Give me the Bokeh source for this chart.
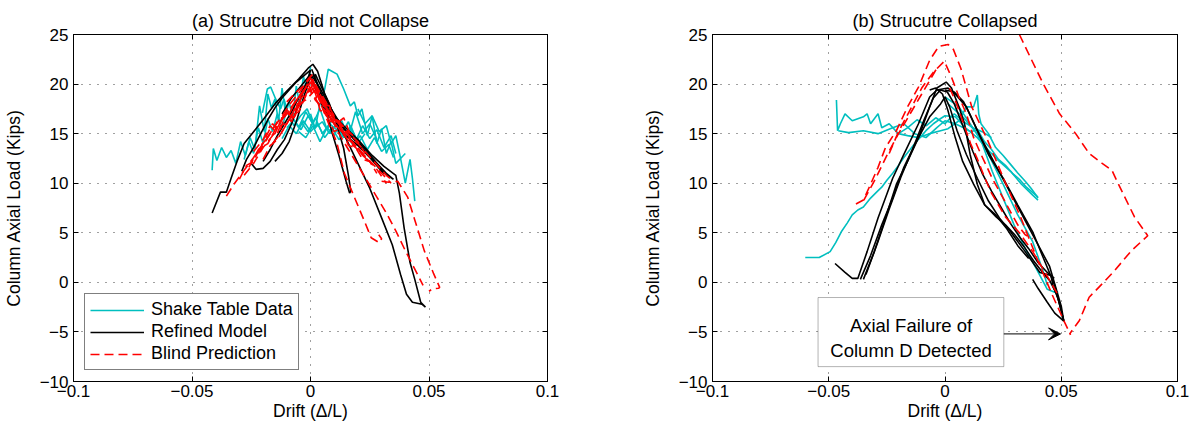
from bokeh.plotting import figure
from bokeh.layouts import row
from bokeh.models import (Range1d, FixedTicker, Legend, LegendItem, BoxAnnotation,
                          Label, Arrow, VeeHead, LinearAxis)
from bokeh.embed import file_html
from bokeh.resources import INLINE

# ---------------- data : panel (a) ----------------
X_TICKS = [-0.1, -0.05, 0, 0.05, 0.1]
X_LABELS = ["\u22120.1", "\u22120.05", "0", "0.05", "0.1"]
Y_TICKS = [-10, -5, 0, 5, 10, 15, 20, 25]
Y_LABELS = ["\u221210", "\u22125", "0", "5", "10", "15", "20", "25"]

A_SHAKE_X = [
    [-0.0415, -0.0410, -0.0395, -0.0375, -0.0355, -0.0335, -0.0315, -0.0295, -0.0275, -0.0255, -0.0235,
     -0.0215, -0.0195, -0.0180, -0.0165, -0.0150, -0.0135, -0.0120, -0.0105, -0.0090, -0.0075, -0.0060,
     -0.0045, -0.0030, -0.0015, 0.0000],
    [0.0000, 0.0020, 0.0040, 0.0060, 0.0075, 0.0090, 0.0112, 0.0140, 0.0168, 0.0185, 0.0200, 0.0217,
     0.0240, 0.0260, 0.0280, 0.0300, 0.0320, 0.0340, 0.0360, 0.0380, 0.0400, 0.0420, 0.0430, 0.0440],
    [-0.0203, -0.0182, -0.0168, -0.0147, -0.0126, -0.0112, -0.0091, -0.0070, -0.0042, -0.0014, 0.0010],
    [-0.012, -0.009, -0.006, -0.003, 0.000, 0.003, 0.006, 0.009, 0.012, 0.015, 0.018, 0.021, 0.024,
     0.027, 0.030, 0.033, 0.035],
    [-0.008, -0.005, -0.002, 0.001, 0.004, 0.007, 0.010, 0.013, 0.016, 0.019, 0.022, 0.025, 0.028,
     0.031, 0.034, 0.036],
    [-0.005, -0.002, 0.001, 0.004, 0.007, 0.010, 0.013, 0.016, 0.019, 0.022, 0.025, 0.028],
    [0.020, 0.023, 0.026, 0.029, 0.032, 0.034, 0.036, 0.038, 0.040],
    [-0.028, -0.026, -0.024, -0.022, -0.020, -0.018, -0.016, -0.014, -0.012, -0.010, -0.008],
    [-0.010, -0.007, -0.004, -0.001, 0.002, 0.005, 0.008, 0.011, 0.014, 0.017, 0.020],
    [-0.004, -0.001, 0.002, 0.005, 0.008, 0.011, 0.014, 0.017, 0.020, 0.023],
]
A_SHAKE_Y = [
    [11.3, 13.5, 12.3, 13.6, 12.6, 13.3, 12.0, 14.2, 12.8, 14.6, 13.4,
     17.8, 15.2, 19.0, 17.6, 18.5, 16.2, 19.6, 17.0, 18.2, 16.5, 19.8,
     17.8, 20.8, 19.4, 21.7],
    [17.0, 15.5, 18.0, 19.5, 21.5, 21.3, 21.0, 19.5, 17.8, 18.2, 16.8, 17.5,
     14.8, 16.8, 14.0, 15.5, 13.0, 14.2, 12.0, 12.5, 10.0, 12.4, 10.5, 8.2],
    [17.1, 19.5, 19.7, 18.5, 17.5, 18.5, 16.8, 15.8, 16.8, 17.5, 16.0],
    [14.5, 15.8, 15.0, 16.3, 15.2, 16.0, 14.6, 15.6, 14.4, 15.2, 13.8, 14.8, 13.4,
     14.6, 13.2, 13.9, 12.6],
    [16.8, 15.6, 17.2, 16.0, 17.5, 15.4, 16.8, 15.0, 16.2, 14.2, 15.8, 14.5, 15.4,
     13.6, 14.8, 13.0],
    [15.2, 14.6, 15.8, 14.2, 15.6, 14.8, 16.4, 14.6, 17.2, 15.0, 16.0, 14.4],
    [17.5, 16.0, 16.8, 15.2, 15.8, 14.0, 14.8, 12.5, 13.0],
    [12.4, 14.2, 13.0, 15.6, 14.0, 16.5, 15.2, 17.0, 15.6, 17.4, 16.2],
    [15.6, 16.4, 15.4, 16.8, 15.6, 16.2, 15.0, 16.0, 14.8, 15.6, 14.2],
    [16.2, 15.2, 16.6, 15.0, 16.0, 15.4, 14.6, 15.8, 14.0, 15.0],
]

A_MODEL_X = [
    [-0.0415, -0.0380, -0.0355, -0.0335, -0.0310, -0.0280, -0.0240, -0.0200, -0.0150, -0.0100, -0.0050,
     -0.0010, 0.0010, 0.0030, 0.0060, 0.0100, 0.0140, 0.0200, 0.0260, 0.0310, 0.0360, 0.0375, 0.0395,
     0.0420, 0.0440, 0.0465, 0.0485, 0.0470, 0.0430, 0.0405, 0.0380, 0.0345, 0.0300, 0.0250, 0.0200,
     0.0150, 0.0100, 0.0050, 0.0010],
    [0.0005, 0.0030, 0.0060, 0.0090, 0.0120, 0.0150, 0.0165, 0.0170, 0.0160, 0.0140, 0.0110, 0.0080,
     0.0050, 0.0020],
    [-0.0290, -0.0270, -0.0240, -0.0210, -0.0180, -0.0150, -0.0120, -0.0090, -0.0060, -0.0030, 0.0000,
     -0.0020, -0.0050, -0.0080, -0.0110, -0.0140, -0.0170, -0.0200, -0.0230, -0.0250],
    [-0.0200, -0.0170, -0.0140, -0.0110, -0.0080, -0.0050, -0.0020, 0.0000, -0.0030, -0.0060, -0.0090,
     -0.0120, -0.0150],
    [0.000, 0.004, 0.008, 0.012, 0.016, 0.020, 0.024, 0.028, 0.032, 0.035, 0.030, 0.025, 0.020, 0.015,
     0.010, 0.005, 0.001],
    [-0.012, -0.008, -0.004, 0.000, 0.004, 0.008, 0.012, 0.016, 0.020, 0.024, 0.028, 0.031],
]
A_MODEL_Y = [
    [7.0, 9.1, 9.1, 10.5, 12.2, 14.0, 15.2, 16.4, 18.0, 19.3, 20.5,
     21.6, 22.0, 21.3, 19.0, 16.8, 15.8, 14.4, 12.8, 11.7, 10.8, 9.0, 5.5,
     2.0, 0.3, -2.0, -2.5, -2.2, -2.0, -1.2, 0.8, 3.8, 6.5, 9.5, 12.0,
     14.5, 16.6, 18.8, 21.0],
    [21.5, 20.0, 17.8, 15.2, 12.8, 10.2, 9.0, 9.2, 10.8, 13.5, 16.0, 18.0, 19.5, 21.0],
    [11.2, 12.4, 13.6, 15.0, 16.4, 17.6, 18.6, 19.4, 20.2, 20.8, 21.4,
     19.8, 18.0, 16.0, 14.4, 13.4, 12.2, 11.5, 11.4, 12.0],
    [12.2, 13.4, 14.8, 16.0, 17.2, 18.6, 20.0, 20.8, 18.6, 16.2, 14.2, 13.0, 12.2],
    [20.8, 18.8, 17.2, 16.0, 15.0, 14.0, 13.0, 12.0, 11.0, 10.4, 11.2, 12.6, 13.8, 14.8,
     16.0, 17.8, 20.2],
    [17.0, 18.6, 19.8, 21.0, 19.6, 17.8, 16.2, 15.0, 14.2, 13.2, 12.0, 11.0],
]

A_BLIND_X = [
    [-0.0355, -0.0320, -0.0280, -0.0240, -0.0200, -0.0160, -0.0120, -0.0080, -0.0040, -0.0010, 0.0010],
    [0.0010, 0.0040, 0.0080, 0.0110, 0.0143, 0.0185, 0.0227, 0.0256, 0.0290, 0.0300, 0.0288],
    [0.0040, 0.0080, 0.0120, 0.0160, 0.0200, 0.0240, 0.0280, 0.0320, 0.0360, 0.0400, 0.0430,
     0.0460, 0.0475],
    [0.0300, 0.0330, 0.0368, 0.0410, 0.0440, 0.0480, 0.0520, 0.0545, 0.0540, 0.0515, 0.0500],
    [-0.028, -0.024, -0.020, -0.016, -0.012, -0.008, -0.004, 0.000, 0.004, 0.008, 0.012, 0.016,
     0.020, 0.024, 0.028, 0.032],
    [-0.022, -0.018, -0.014, -0.010, -0.006, -0.002, 0.001, 0.005, 0.009, 0.013, 0.017, 0.021, 0.025],
    [-0.016, -0.012, -0.008, -0.004, 0.000, 0.003, 0.006, 0.010, 0.014, 0.018],
    [-0.026, -0.022, -0.018, -0.014, -0.010, -0.006, -0.002, 0.002, 0.006, 0.010, 0.014, 0.018,
     0.022, 0.026, 0.030, 0.034],
    [-0.010, -0.006, -0.003, 0.000, 0.002, 0.005, 0.008, 0.012, 0.016, 0.018],
    [-0.024, -0.020, -0.017, -0.014, -0.011, -0.008, -0.005, -0.002, 0.001, 0.004, 0.007, 0.010,
     0.013, 0.016, 0.019, 0.022, 0.025],
    [-0.019, -0.016, -0.013, -0.010, -0.007, -0.004, -0.001, 0.002, 0.005, 0.008, 0.011, 0.014],
    [-0.013, -0.010, -0.007, -0.004, -0.001, 0.002, 0.005, 0.008, 0.011, 0.014, 0.017, 0.020, 0.023],
    [-0.020, -0.017, -0.014, -0.011, -0.008, -0.005, -0.002, 0.001, 0.004, 0.007, 0.010, 0.013,
     0.016, 0.019, 0.022, 0.025, 0.028],
    [-0.030, -0.027, -0.024, -0.021, -0.018, -0.015, -0.012, -0.009, -0.006, -0.003, 0.000, 0.003,
     0.006, 0.009, 0.012, 0.015],
    [0.002, 0.005, 0.008, 0.011, 0.014, 0.017, 0.020, 0.023, 0.026, 0.029, 0.032, 0.035],
]
A_BLIND_Y = [
    [8.7, 10.0, 11.3, 12.6, 14.0, 15.4, 16.8, 18.2, 19.4, 20.5, 21.0],
    [20.5, 18.2, 15.8, 14.2, 11.0, 8.6, 6.2, 4.5, 4.0, 4.4, 4.8],
    [19.0, 17.0, 15.0, 13.4, 11.8, 10.2, 8.6, 7.0, 5.2, 3.2, 1.8, 0.4, -0.3],
    [10.2, 10.1, 10.2, 8.6, 6.3, 3.2, 0.85, -0.5, -0.6, -0.65, -0.9],
    [10.8, 12.0, 13.6, 14.8, 16.4, 17.6, 19.0, 20.2, 18.6, 17.0, 15.8, 14.6,
     13.6, 12.4, 11.4, 10.0],
    [13.0, 14.6, 16.2, 17.0, 18.4, 19.6, 20.4, 18.2, 16.4, 15.2, 14.0, 13.2, 12.0],
    [14.0, 15.2, 16.8, 18.0, 19.8, 18.8, 17.6, 16.6, 15.4, 14.2],
    [11.6, 13.4, 14.0, 15.8, 16.0, 17.8, 18.4, 19.4, 17.2, 16.0, 15.0, 14.0,
     13.0, 12.0, 11.0, 10.0],
    [18.2, 19.2, 19.8, 20.6, 19.6, 18.6, 17.2, 16.2, 15.2, 14.8],
    [13.2, 14.4, 15.8, 15.0, 17.0, 16.2, 18.4, 19.8, 19.0, 17.8, 17.2, 16.0,
     15.4, 14.4, 13.8, 12.8, 12.2],
    [14.6, 16.0, 15.2, 17.4, 16.6, 18.8, 20.0, 18.4, 17.6, 16.2, 16.4, 15.0],
    [16.0, 17.2, 16.4, 18.6, 19.2, 19.6, 18.0, 17.8, 16.0, 16.6, 14.8, 14.2, 13.0],
    [12.4, 13.8, 14.4, 15.6, 16.8, 17.2, 18.8, 20.0, 17.4, 16.8, 15.2, 15.6,
     13.8, 13.6, 12.4, 12.2, 11.0],
    [10.4, 11.8, 12.2, 13.8, 14.6, 15.0, 16.6, 17.0, 18.4, 19.2, 20.6, 19.0,
     18.0, 16.2, 16.0, 14.6],
    [20.0, 18.8, 17.6, 16.4, 15.6, 14.6, 14.0, 13.2, 12.4, 11.6, 10.8, 10.2],
]

# ---------------- data : panel (b) ----------------
B_SHAKE_X = [
    [-0.0601, -0.0541, -0.0494, -0.0470, -0.0446, -0.0420, -0.0399, -0.0375, -0.0351, -0.0320, -0.0290,
     -0.0272, -0.0250, -0.0225, -0.0200, -0.0177, -0.0150, -0.0130, -0.0100, -0.0082, -0.0050, -0.0020,
     0.0000, 0.0044, 0.0092, 0.0139, 0.0187, 0.0234, 0.0282, 0.0329, 0.0377, 0.0400],
    [-0.0467, -0.0462, -0.0450, -0.0430, -0.0399, -0.0351, -0.0335, -0.0320, -0.0288, -0.0272, -0.0240,
     -0.0201, -0.0161, -0.0114, -0.0066, -0.0019, 0.0013, 0.0060, 0.0092, 0.0123, 0.0139, 0.0145,
     0.0155, 0.0187, 0.0218, 0.0250, 0.0282, 0.0314, 0.0345, 0.0370, 0.0392, 0.0400],
    [-0.0459, -0.0415, -0.0351, -0.0288, -0.0225, -0.0177, -0.0130, -0.0082, -0.0035, 0.0000, 0.0044,
     0.0080, 0.0110, 0.0140, 0.0170, 0.0200, 0.0230, 0.0260, 0.0290, 0.0320, 0.0350, 0.0380, 0.0400],
    [0.0000, 0.0060, 0.0108, 0.0155, 0.0203, 0.0250, 0.0297, 0.0345, 0.0392, 0.0440, 0.0472, 0.0487],
    [0.0013, 0.0076, 0.0139, 0.0187, 0.0250, 0.0313, 0.0377, 0.0424, 0.0440],
    [-0.020, -0.016, -0.012, -0.008, -0.004, 0.000, 0.004, 0.008, 0.012, 0.016, 0.020],
]
B_SHAKE_Y = [
    [2.5, 2.5, 3.1, 4.0, 5.1, 6.0, 6.8, 7.3, 7.6, 8.5, 9.2,
     9.6, 10.3, 11.0, 11.8, 12.6, 13.4, 14.0, 14.8, 15.3, 16.0, 16.5,
     16.8, 16.7, 15.5, 14.6, 13.3, 12.2, 11.2, 9.9, 8.8, 8.3],
    [18.4, 15.3, 16.0, 17.0, 16.3, 16.7, 17.0, 16.0, 17.0, 15.6, 16.0,
     15.0, 14.8, 14.6, 15.0, 15.3, 15.5, 16.3, 17.7, 17.7, 18.9, 17.0,
     16.0, 15.0, 13.6, 12.8, 11.9, 11.0, 10.2, 9.5, 8.8, 8.5],
    [15.3, 15.1, 15.3, 15.0, 15.6, 16.0, 15.0, 14.6, 15.6, 16.3, 16.0,
     15.6, 15.2, 15.4, 14.2, 13.4, 12.4, 11.8, 11.0, 10.4, 9.6, 9.0, 8.6],
    [18.7, 17.7, 16.0, 14.3, 11.2, 8.5, 5.8, 3.4, 1.4, -0.7, -1.0, -1.0],
    [18.0, 16.7, 15.0, 12.9, 9.9, 6.8, 4.1, 1.0, -0.3],
    [15.0, 15.6, 16.4, 15.8, 16.6, 16.0, 17.0, 16.2, 15.6, 15.2, 14.6],
]

B_MODEL_X = [
    [-0.0473, -0.0430, -0.0399, -0.0375, -0.0335, -0.0288, -0.0225, -0.0177, -0.0114, -0.0066, -0.0035,
     0.0013, 0.0044, 0.0092, 0.0139, 0.0187, 0.0250, 0.0313, 0.0377, 0.0424, 0.0472, 0.0511, 0.0472,
     0.0440, 0.0400, 0.0377],
    [-0.0364, -0.0320, -0.0272, -0.0225, -0.0177, -0.0130, -0.0066, -0.0019, 0.0000, 0.0020, 0.0052,
     0.0092, 0.0139, 0.0187, 0.0234, 0.0282, 0.0345, 0.0408, 0.0456, 0.0464, 0.0487, 0.0511],
    [-0.0351, -0.0304, -0.0256, -0.0209, -0.0161, -0.0114, -0.0066, -0.0035, 0.0005, 0.0028, 0.0060,
     0.0084, 0.0108, 0.0139, 0.0171, 0.0218, 0.0266, 0.0313, 0.0360],
    [-0.0340, -0.0290, -0.0240, -0.0190, -0.0140, -0.0090, -0.0050, -0.0020, 0.0010, 0.0040, 0.0080,
     0.0120, 0.0160, 0.0200, 0.0240, 0.0280, 0.0320, 0.0360, 0.0400, 0.0440, 0.0470],
    [-0.0066, -0.0040, -0.0011, 0.0013, 0.0044, 0.0076, 0.0123, 0.0171, 0.0220, 0.0260, 0.0300,
     0.0340, 0.0380, 0.0420, 0.0450, 0.0480, 0.0500],
    [0.0000, 0.0040, 0.0080, 0.0110, 0.0150, 0.0200, 0.0250, 0.0300, 0.0350, 0.0400, 0.0450,
     0.0500, 0.0511],
]
B_MODEL_Y = [
    [1.9, 1.0, 0.4, 0.4, 3.1, 6.5, 10.5, 12.9, 16.0, 18.7, 19.4,
     19.6, 19.0, 17.7, 15.3, 12.9, 10.5, 7.8, 5.1, 2.4, -0.3, -3.9, -3.1,
     -2.0, -0.6, 0.3],
    [0.3, 2.7, 5.8, 8.5, 11.6, 13.9, 16.7, 18.0, 18.7, 17.7, 15.3,
     12.9, 10.5, 8.2, 6.5, 5.1, 3.1, 1.0, 0.7, -0.3, -1.7, -3.9],
    [0.3, 3.1, 6.5, 9.9, 12.2, 14.6, 17.7, 19.6, 20.2, 19.6, 17.7,
     16.0, 12.9, 9.9, 7.8, 6.8, 5.4, 3.7, 2.4],
    [0.8, 4.0, 7.4, 10.6, 13.4, 16.4, 18.6, 19.4, 19.2, 18.0, 15.6,
     13.2, 11.0, 9.2, 7.6, 6.0, 4.6, 3.4, 2.0, 1.0, 0.4],
    [19.4, 19.6, 19.0, 17.3, 14.6, 12.2, 9.9, 7.8, 6.6, 5.8, 4.8,
     3.6, 2.2, 1.0, 0.2, -1.2, -2.6],
    [19.4, 19.2, 18.2, 16.8, 14.8, 12.6, 10.4, 8.2, 6.0, 3.8, 1.6,
     -2.4, -3.9],
]

B_BLIND_X = [
    [-0.0383, -0.0351, -0.0320, -0.0288, -0.0256, -0.0209, -0.0161, -0.0114, -0.0066, -0.0027, 0.0013,
     0.0036, 0.0068, 0.0115, 0.0184, 0.0255, 0.0325, 0.0394, 0.0460, 0.0510, 0.0540],
    [0.0320, 0.0367, 0.0423, 0.0493, 0.0562, 0.0620, 0.0676, 0.0718, 0.0746, 0.0815, 0.0872,
     0.0802, 0.0730, 0.0676, 0.0620, 0.0578, 0.0536],
    [-0.0240, -0.0200, -0.0150, -0.0100, -0.0050, -0.0003, 0.0028, 0.0060, 0.0092, 0.0123, 0.0155,
     0.0203, 0.0250, 0.0282, 0.0313, 0.0345, 0.0377],
    [0.0020, 0.0050, 0.0080, 0.0110, 0.0140, 0.0170, 0.0200, 0.0230, 0.0260, 0.0290, 0.0320,
     0.0350, 0.0380, 0.0410, 0.0440, 0.0470, 0.0490],
    [-0.0349, -0.0300, -0.0250, -0.0200, -0.0150, -0.0100, -0.0060, -0.0030],
]
B_BLIND_Y = [
    [7.9, 8.3, 9.9, 11.6, 13.6, 15.3, 17.7, 19.7, 22.4, 23.8, 24.0,
     23.5, 21.6, 17.7, 14.3, 10.3, 6.6, 2.5, -1.2, -3.8, -5.3],
    [25.0, 22.7, 20.0, 17.0, 15.0, 13.0, 12.0, 11.3, 9.9, 6.6, 4.7,
     3.2, 1.2, -0.15, -1.5, -3.85, -5.2],
    [13.0, 15.2, 17.4, 19.6, 21.2, 22.3, 20.7, 18.7, 17.0, 14.6, 12.9,
     10.5, 8.5, 7.1, 5.8, 4.8, 4.4],
    [19.6, 18.0, 16.0, 14.0, 12.4, 10.6, 9.0, 7.8, 6.6, 5.8, 5.0,
     4.0, 3.0, 1.8, 0.6, -0.6, -1.4],
    [8.3, 10.4, 12.8, 15.0, 17.0, 19.0, 20.6, 21.8],
]

TITLES = ["(a) Strucutre Did not Collapse", "(b) Strucutre Collapsed"]
SERIES_NAMES = ["Shake Table Data", "Refined Model", "Blind Prediction"]
NOTE_LINES = ["Axial Failure of", "Column D Detected"]

FONT = "Liberation Sans"
CYAN = "#00BFBF"
RED = "#FF0000"


def make_fig(title, width, bl, br):
    p = figure(width=width, height=429, x_range=Range1d(-0.1, 0.1), y_range=Range1d(-10, 25),
               output_backend="svg", toolbar_location=None,
               min_border_left=bl, min_border_right=br, min_border_top=34, min_border_bottom=48)
    p.title.text = title
    p.title.align = "center"
    p.title.text_font = FONT
    p.title.text_font_size = "18px"
    p.title.text_font_style = "normal"
    p.title.text_color = "black"
    p.title.standoff = 8
    p.background_fill_color = "white"
    p.border_fill_color = "white"
    p.outline_line_color = "black"
    p.outline_line_width = 1
    p.outline_line_alpha = 1

    p.xaxis.ticker = FixedTicker(ticks=X_TICKS)
    p.yaxis.ticker = FixedTicker(ticks=Y_TICKS)
    p.xaxis.major_label_overrides = {t: s for t, s in zip(X_TICKS, X_LABELS)}
    p.yaxis.major_label_overrides = {t: s for t, s in zip(Y_TICKS, Y_LABELS)}
    for ax in (p.xaxis, p.yaxis):
        ax.major_label_text_font = FONT
        ax.major_label_text_font_size = "17px"
        ax.major_label_text_color = "black"
        ax.axis_label_text_font = FONT
        ax.axis_label_text_font_size = "17.5px"
        ax.axis_label_text_font_style = "normal"
        ax.axis_label_text_color = "black"
        ax.major_tick_in = 5
        ax.major_tick_out = 0
        ax.minor_tick_in = 0
        ax.minor_tick_out = 0
        ax.axis_line_color = "black"
        ax.major_tick_line_color = "black"
    p.xaxis.axis_label = "Drift (\u0394/L)"
    p.yaxis.axis_label = "Column Axial Load (Kips)"
    p.xaxis.major_label_standoff = 3
    p.xaxis.axis_label_standoff = 1
    p.yaxis.major_label_standoff = 5
    p.yaxis.axis_label_standoff = 13

    # inner ticks on the top and right edges (box style)
    for loc, tk in (("right", Y_TICKS), ("above", X_TICKS)):
        ax = LinearAxis(ticker=FixedTicker(ticks=tk))
        ax.major_tick_in = 5
        ax.major_tick_out = 0
        ax.minor_tick_in = 0
        ax.minor_tick_out = 0
        ax.major_label_text_alpha = 0
        ax.major_label_text_font_size = "1px"
        ax.major_label_standoff = 0
        ax.axis_line_color = "black"
        ax.major_tick_line_color = "black"
        p.add_layout(ax, loc)

    p.xgrid.ticker = FixedTicker(ticks=X_TICKS)
    p.ygrid.ticker = FixedTicker(ticks=Y_TICKS)
    for g in (p.xgrid, p.ygrid):
        g.grid_line_color = "black"
        g.grid_line_alpha = 0.75
        g.grid_line_dash = "1 7"
        g.grid_line_width = 1
    return p


def draw(p, sx, sy, mx, my, bx, by):
    r1 = p.multi_line(sx, sy, line_color=CYAN, line_width=1.6)
    r2 = p.multi_line(mx, my, line_color="black", line_width=1.6)
    r3 = p.multi_line(bx, by, line_color=RED, line_width=1.6, line_dash="9 5")
    return r1, r2, r3


pa = make_fig(TITLES[0], 639, 71, 92)
ra = draw(pa, A_SHAKE_X, A_SHAKE_Y, A_MODEL_X, A_MODEL_Y, A_BLIND_X, A_BLIND_Y)
legend = Legend(items=[LegendItem(label=n, renderers=[r]) for n, r in zip(SERIES_NAMES, ra)],
                location="bottom_left")
legend.label_text_font = FONT
legend.label_text_font_size = "18px"
legend.label_text_color = "black"
legend.glyph_width = 54
legend.glyph_height = 20
legend.label_height = 20
legend.label_standoff = 7
legend.spacing = 1
legend.padding = 5
legend.margin = 11
legend.border_line_color = "black"
legend.border_line_width = 1.5
legend.background_fill_color = "white"
legend.background_fill_alpha = 1
pa.add_layout(legend, "center")

pb = make_fig(TITLES[1], 552, 63, 14)
draw(pb, B_SHAKE_X, B_SHAKE_Y, B_MODEL_X, B_MODEL_Y, B_BLIND_X, B_BLIND_Y)
pb.add_layout(BoxAnnotation(left=-0.0546, right=0.0253, top=-1.53, bottom=-8.5,
                            fill_color="white", fill_alpha=1, line_color="black", line_width=1))
pb.add_layout(Label(x=-0.0146, y=-4.4, text=NOTE_LINES[0], text_align="center", text_baseline="middle",
                    text_font=FONT, text_font_size="18.5px", text_color="black"))
pb.add_layout(Label(x=-0.0146, y=-6.85, text=NOTE_LINES[1], text_align="center", text_baseline="middle",
                    text_font=FONT, text_font_size="18.5px", text_color="black"))
pb.add_layout(Arrow(end=VeeHead(size=12, fill_color="black", line_color="black"),
                    x_start=0.0253, y_start=-5.2, x_end=0.0497, y_end=-5.2,
                    line_color="black", line_width=1))

layout = row(pa, pb)
open("out.html", "w").write(file_html(layout, INLINE))
